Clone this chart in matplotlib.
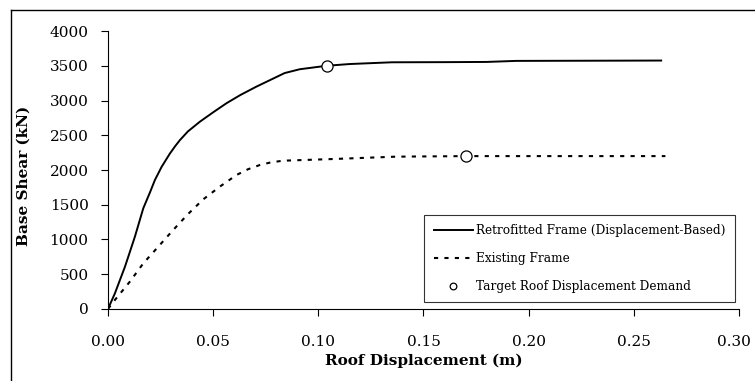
import matplotlib.pyplot as plt
from matplotlib.lines import Line2D
from matplotlib.transforms import ScaledTranslation

# pushover curves: roof displacement (m) vs base shear (kN)
retro_disp = [0, 0.0033, 0.0081, 0.0128, 0.0168, 0.0200, 0.0223, 0.0255, 0.0294, 0.0320,
              0.0342, 0.0380, 0.0437, 0.0500, 0.0563, 0.0630, 0.0706, 0.0840, 0.0912,
              0.104, 0.115, 0.135, 0.16, 0.18, 0.194, 0.263]
retro_shear = [0, 225, 610, 1040, 1450, 1680, 1855, 2045, 2235, 2345,
               2430, 2555, 2695, 2830, 2960, 3080, 3200, 3395, 3450,
               3500, 3525, 3550, 3552, 3555, 3570, 3575]

exist_disp = [0, 0.0033, 0.0104, 0.0168, 0.0239, 0.031, 0.0381, 0.0453, 0.0532,
              0.0611, 0.0665, 0.0722, 0.0775, 0.0833, 0.107, 0.137, 0.17, 0.265]
exist_shear = [0, 130, 393, 657, 896, 1137, 1367, 1578, 1761,
               1928, 2010, 2072, 2110, 2134, 2158, 2192, 2200, 2200]

# target roof displacement demand points
target_disp = [0.104, 0.17]
target_shear = [3500, 2200]

x_ticks = [0.00, 0.05, 0.10, 0.15, 0.20, 0.25, 0.30]
y_ticks = list(range(0, 4001, 500))

plt.rcParams['font.family'] = 'DejaVu Serif'

fig = plt.figure(figsize=(7.55, 3.81), dpi=100)
ax = fig.add_axes([0.1430, 0.189, 0.8358, 0.7296])

ax.plot(retro_disp, retro_shear, color='black', lw=1.4,
        label='Retrofitted Frame (Displacement-Based)')
ax.plot(exist_disp, exist_shear, color='black', lw=1.5, linestyle=(0, (2, 3)),
        label='Existing Frame')
ax.plot(target_disp, target_shear, linestyle='none', marker='o', ms=8,
        mfc='white', mec='black', mew=0.9, label='Target Roof Displacement Demand')

ax.set_xlim(0, 0.30)
ax.set_ylim(0, 4000)
ax.set_xticks(x_ticks)
ax.set_xticklabels([f'{v:.2f}' for v in x_ticks])
ax.set_yticks(y_ticks)

for side in ('top', 'right'):
    ax.spines[side].set_visible(False)
for side in ('left', 'bottom'):
    ax.spines[side].set_linewidth(0.8)

ax.tick_params(axis='y', direction='out', length=5, width=0.8, pad=9, labelsize=11)
ax.tick_params(axis='x', direction='out', length=5, width=0.8, pad=14, labelsize=11)

# keep the last x tick label inside the chart frame
last = ax.get_xticklabels()[-1]
last.set_transform(last.get_transform() + ScaledTranslation(-0.05, 0, fig.dpi_scale_trans))

ax.set_xlabel('Roof Displacement (m)', fontsize=11, fontweight='bold', labelpad=3)
ax.set_ylabel('Base Shear (kN)', fontsize=11, fontweight='bold')
ax.yaxis.set_label_coords(-0.122, 0.478)

leg = ax.legend(loc='lower right', bbox_to_anchor=(0.9937, 0.025), borderaxespad=0,
                fontsize=8.7, frameon=True, fancybox=False, handlelength=3.3,
                handletextpad=0.25, labelspacing=1.25, borderpad=0.75, markerscale=0.6)
leg.get_frame().set_edgecolor('black')
leg.get_frame().set_linewidth(0.8)

# outer chart frame
fig.add_artist(Line2D([0.0146, 0.0146], [0, 0.9738], color='black', lw=1.0,
                      transform=fig.transFigure))
fig.add_artist(Line2D([0.0146, 1.0], [0.9738, 0.9738], color='black', lw=1.0,
                      transform=fig.transFigure))

fig.savefig('out.png', dpi=100)
